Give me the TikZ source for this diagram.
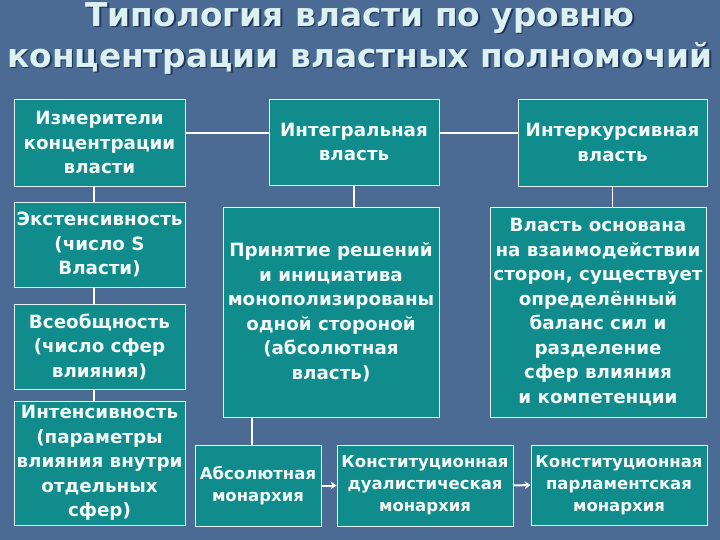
\documentclass[tikz,border=0pt]{standalone}
\usepackage{fontspec}
\setmainfont{DejaVu Sans}
\usetikzlibrary{arrows.meta}
\definecolor{bgc}{HTML}{4B6B94}
\definecolor{boxfill}{HTML}{118C8C}
\definecolor{boxline}{HTML}{E4F2F2}
\definecolor{titlec}{HTML}{DCF2F2}
\definecolor{shadowc}{HTML}{22355A}
\definecolor{txtc}{HTML}{F4FAFA}
\newcommand{\bxfont}{\bfseries\fontsize{18.3}{24.5}\selectfont}
\newcommand{\smfont}{\bfseries\fontsize{16.5}{22}\selectfont}
\newcommand{\ttlfont}{\bfseries\fontsize{32.8}{41}\selectfont}
\begin{document}
\begin{tikzpicture}[x=1pt,y=-1pt,
  bx/.style={draw=boxline, fill=boxfill, line width=0.9pt, inner sep=0pt, align=center, text=txtc, font=\bxfont},
  sbx/.style={bx, font=\smfont},
  conn/.style={draw=white, line width=1.8pt},
  arr/.style={draw=white, line width=2pt, -{Stealth[length=6pt,width=8pt]}},
  ttl/.style={font=\ttlfont, align=center, inner sep=0pt}]
\fill[bgc] (0,0) rectangle (720,540);
\useasboundingbox (0,0) rectangle (720,540);
% title
\node[ttl, text=shadowc] (tsh) at (361.5,39.5) {Типология власти по уровню\\концентрации властных полномочий};
\node[ttl, text=titlec] (title) at (360,38) {Типология власти по уровню\\концентрации властных полномочий};
% left column
\node[bx, minimum width=171pt, minimum height=87pt] (m1) at (99.5,142.5) {Измерители\\концентрации\\власти};
\node[bx, minimum width=171pt, minimum height=85pt] (m2) at (99.5,244.5) {Экстенсивность\\(число S\\Власти)};
\node[bx, minimum width=171pt, minimum height=85pt] (m3) at (99.5,346.5) {Всеобщность\\(число сфер\\влияния)};
\node[bx, minimum width=171pt, minimum height=124pt] (m4) at (99.5,463) {Интенсивность\\(параметры\\влияния внутри\\отдельных\\сфер)};
% top row
\node[bx, minimum width=170pt, minimum height=86pt] (i1) at (354,142) {Интегральная\\власть};
\node[bx, minimum width=189pt, minimum height=87pt] (k1) at (612.5,142.5) {Интеркурсивная\\власть};
% big boxes
\node[bx, minimum width=216pt, minimum height=210pt] (i2) at (331,312) {Принятие решений\\и инициатива\\монополизированы\\одной стороной\\(абсолютная\\власть)};
\node[bx, minimum width=216pt, minimum height=210pt] (k2) at (598,312) {Власть основана\\на взаимодействии\\сторон, существует\\определённый\\баланс сил и\\разделение\\сфер влияния\\и компетенции};
% bottom row
\node[sbx, minimum width=126pt, minimum height=81pt] (b1) at (258,485.5) {Абсолютная\\монархия};
\node[sbx, minimum width=176pt, minimum height=81pt] (b2) at (425,485.5) {Конституционная\\дуалистическая\\монархия};
\node[sbx, minimum width=176pt, minimum height=80pt] (b3) at (619,485) {Конституционная\\парламентская\\монархия};
% helper coordinates
\coordinate (hl) at (0,133);
\coordinate (vl) at (94,0);
\coordinate (vb) at (252,0);
% connectors
\draw[conn] (m1.east |- hl) -- (i1.west |- hl);
\draw[conn] (i1.east |- hl) -- (k1.west |- hl);
\draw[conn] (m1.south -| vl) -- (m2.north -| vl);
\draw[conn] (m2.south -| vl) -- (m3.north -| vl);
\draw[conn] (m3.south -| vl) -- (m4.north -| vl);
\draw[conn] (i1.south) -- (i1.south |- i2.north);
\draw[conn] (k1.south) -- (k1.south |- k2.north);
\draw[conn] (i2.south -| vb) -- (b1.north -| vb);
\draw[arr] (b1.east) -- (b2.west);
\draw[arr] (b2.east) -- (b3.west);
\end{tikzpicture}
\end{document}
